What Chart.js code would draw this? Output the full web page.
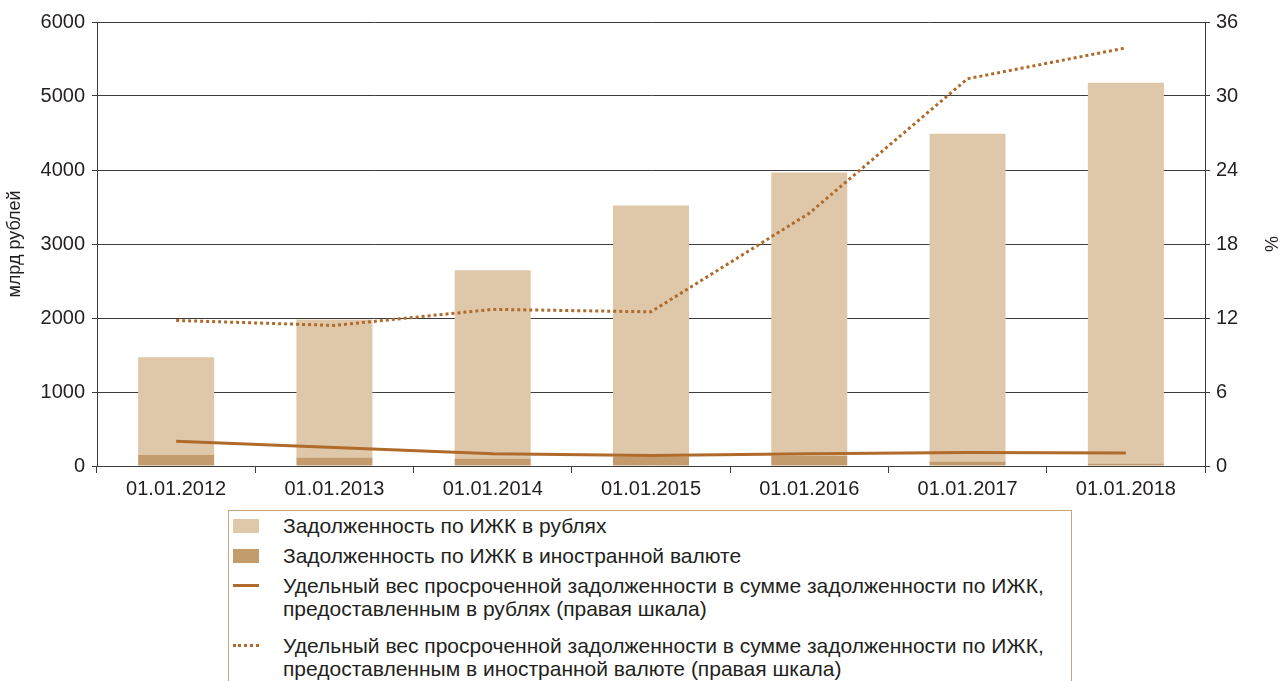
<!DOCTYPE html>
<html>
<head>
<meta charset="utf-8">
<script src="https://cdn.jsdelivr.net/npm/chart.js@4.4.1/dist/chart.umd.min.js"></script>
<style>
  body { margin: 0; background: #fff; font-family: "Liberation Sans", Arial, sans-serif; }
  #wrap { position: relative; width: 1285px; height: 681px; overflow: hidden; }
  #chart { position: absolute; left: 0; top: 0; }
  #legend {
    position: absolute; left: 228px; top: 510px; width: 842px; height: 200px;
    border: 1px solid #c9a47c; border-bottom: none;
    font-size: 21px; color: #231f20; line-height: 23px;
  }
  .item { position: relative; padding-left: 54px; white-space: pre-line; }
  .sw { position: absolute; left: 4px; }
</style>
</head>
<body>
<div id="wrap">
  <canvas id="chart" width="1285" height="500"></canvas>
  <div id="legend"></div>
</div>
<script>
// data
var categories = ["01.01.2012", "01.01.2013", "01.01.2014", "01.01.2015", "01.01.2016", "01.01.2017", "01.01.2018"];
var debtRub = [1320, 1865, 2545, 3390, 3830, 4430, 5145];
var debtFx = [150, 115, 100, 130, 135, 60, 35];
var overdueRub = [2.0, 1.5, 1.0, 0.85, 1.0, 1.1, 1.05];
var overdueFx = [11.8, 11.4, 12.7, 12.5, 20.5, 31.4, 33.9];
var leftTicks = [0, 1000, 2000, 3000, 4000, 5000, 6000];
var rightTicks = [0, 6, 12, 18, 24, 30, 36];

var labelRub = "Задолженность по ИЖК в рублях";
var labelFx = "Задолженность по ИЖК в иностранной валюте";
var labelOvRub = "Удельный вес просроченной задолженности в сумме задолженности по ИЖК,\nпредоставленным в рублях (правая шкала)";
var labelOvFx = "Удельный вес просроченной задолженности в сумме задолженности по ИЖК,\nпредоставленным в иностранной валюте (правая шкала)";

var cLight = '#dfc7aa';
var cDark = '#c49b6c';
var cLine = '#b06a2a';
var gridC = '#3c3c3c';
var fontTick = { family: '"Liberation Sans", Arial, sans-serif', size: 20 };

var ctx = document.getElementById("chart").getContext('2d');
var chart = new Chart(ctx, {
  type: 'bar',
  data: {
    labels: categories,
    datasets: [
      { type: 'line', label: labelOvRub, data: overdueRub, yAxisID: 'y1', order: 0,
        borderColor: cLine, borderWidth: 3, pointRadius: 0, tension: 0, fill: false },
      { type: 'line', label: labelOvFx, data: overdueFx, yAxisID: 'y1', order: 0,
        borderColor: cLine, borderWidth: 3, borderDash: [3, 3], pointRadius: 0, tension: 0, fill: false },
      { label: labelFx, data: debtFx, yAxisID: 'y', stack: 's', order: 1,
        backgroundColor: cDark, categoryPercentage: 1, barPercentage: 0.48 },
      { label: labelRub, data: debtRub, yAxisID: 'y', stack: 's', order: 1,
        backgroundColor: cLight, categoryPercentage: 1, barPercentage: 0.48 }
    ]
  },
  options: {
    responsive: false,
    animation: false,
    devicePixelRatio: 1,
    layout: { padding: { top: 22, left: 0, right: 0, bottom: 0 } },
    plugins: { legend: { display: false }, tooltip: { enabled: false } },
    scales: {
      x: {
        stacked: true,
        grid: { display: true, drawOnChartArea: false, offset: true, tickLength: 7, color: gridC },
        border: { color: gridC },
        ticks: { font: fontTick, color: '#231f20', padding: 4, maxRotation: 0 },
        afterFit: function (s) { s.height = 34; }
      },
      y: {
        position: 'left', stacked: true, min: 0, max: 6000,
        afterBuildTicks: function (s) { s.ticks = leftTicks.map(function (v) { return { value: v }; }); },
        grid: { color: gridC, tickLength: 5 },
        border: { color: gridC },
        ticks: { font: fontTick, color: '#231f20', padding: 7, callback: function (v) { return String(v); } },
        title: { display: true, text: 'млрд рублей', font: { family: '"Liberation Sans", Arial, sans-serif', size: 18 }, color: '#231f20', padding: { top: 4, bottom: 4 } },
        afterFit: function (s) { s.width = 97; }
      },
      y1: {
        position: 'right', min: 0, max: 36,
        afterBuildTicks: function (s) { s.ticks = rightTicks.map(function (v) { return { value: v }; }); },
        grid: { drawOnChartArea: false, color: gridC, tickLength: 5 },
        border: { color: gridC },
        ticks: { font: fontTick, color: '#231f20', padding: 6, callback: function (v) { return String(v); } },
        title: { display: true, text: '%', font: { family: '"Liberation Sans", Arial, sans-serif', size: 18 }, color: '#231f20', padding: { top: 4, bottom: 4 } },
        afterFit: function (s) { s.width = 80; }
      }
    }
  }
});

// html legend, built from the datasets
var legendOrder = [3, 2, 0, 1];
var lg = document.getElementById('legend');
var html = '';
legendOrder.forEach(function (i, k) {
  var ds = chart.data.datasets[i];
  var sw;
  if (ds.type === 'line') {
    var style = ds.borderDash ? 'dotted' : 'solid';
    sw = '<span class="sw" style="top:10px;width:26px;height:0;border-top:3px ' + style + ' ' + ds.borderColor + '"></span>';
  } else {
    sw = '<span class="sw" style="top:5px;width:26px;height:14px;background:' + ds.backgroundColor + '"></span>';
  }
  var mt = k === 0 ? 3 : (k === 3 ? 14 : 7);
  html += '<div class="item" style="margin-top:' + mt + 'px">' + sw + ds.label + '</div>';
});
lg.innerHTML = html;
</script>
</body>
</html>
